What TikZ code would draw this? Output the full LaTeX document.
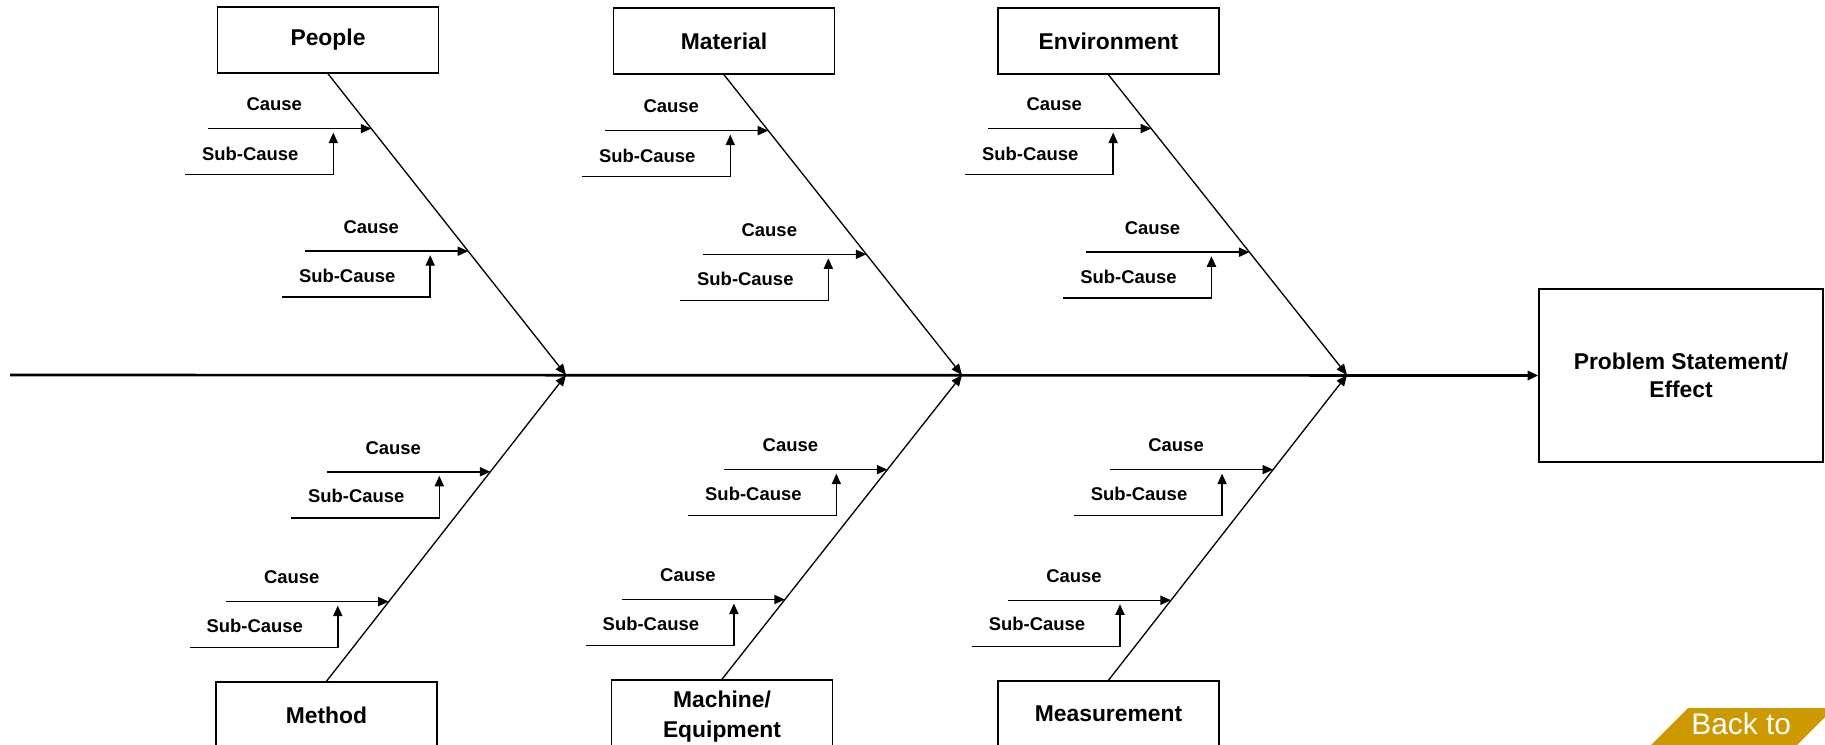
\documentclass[tikz,border=0pt]{standalone}
\usepackage{fontspec}
\setmainfont{Liberation Sans}
\usetikzlibrary{arrows.meta,calc}
\definecolor{backgold}{RGB}{204,153,0}

\begin{document}
\begin{tikzpicture}[x=0.02cm,y=0.02cm]
\tikzstyle{every node}+=[inner sep=0pt]
\tikzstyle{bone}=[draw, line width=0.9pt, minimum width=4.42cm, minimum height=1.32cm, align=center, font=\fontsize{13}{17}\selectfont\bfseries]
\tikzstyle{cause}=[font=\fontsize{10.5}{12}\selectfont\bfseries]
\tikzstyle{causearrow}=[line width=0.85pt, -{Triangle[length=6pt,width=5.2pt]}]
\tikzstyle{bonearrow}=[line width=0.75pt, -{Triangle[length=6.2pt,width=5.2pt]}]
\useasboundingbox (0,0) rectangle (1825,-744);
% head and spine
\node [bone, minimum width=5.68cm, minimum height=3.46cm, font=\fontsize{13}{16}\selectfont\bfseries] (effect) at (1681,-375.5) {Problem Statement/\\Effect};
\coordinate (tail) at (10,-375);
\draw [line width=1.5pt, -{Triangle[length=6pt,width=5.2pt]}] (tail) -- (effect.west);
\coordinate (j1) at (566,-375);
\coordinate (j2) at (962,-375);
\coordinate (j3) at (1347,-375);
% category boxes
\node [bone] (people) at (328,-40) {People};
\node [bone] (material) at (724,-41) {Material};
\node [bone] (environment) at (1108.5,-41) {Environment};
\node [bone] (method) at (326.5,-715) {Method};
\node [bone, minimum height=1.48cm] (machine) at (722,-717) {Machine/\\Equipment};
\node [bone] (measurement) at (1108.5,-714) {Measurement};
% bones
\draw [bonearrow] (people.south) -- coordinate[pos=0.182] (p1) coordinate[pos=0.589] (p2) (j1);
\draw [bonearrow] (material.south) -- coordinate[pos=0.186] (m1) coordinate[pos=0.598] (m2) (j2);
\draw [bonearrow] (environment.south) -- coordinate[pos=0.179] (e1) coordinate[pos=0.591] (e2) (j3);
\draw [bonearrow] (method.north) -- coordinate[pos=0.684] (t1) coordinate[pos=0.26] (t2) (j1);
\draw [bonearrow] (machine.north) -- coordinate[pos=0.689] (q1) coordinate[pos=0.262] (q2) (j2);
\draw [bonearrow] (measurement.north) -- coordinate[pos=0.69] (s1) coordinate[pos=0.262] (s2) (j3);
% People
\draw [causearrow] ($(p1)+(-163,0)$) -- (p1);
\node [cause] (pc1) at ($(p1)+(-97,24)$) {Cause};
\draw [causearrow] ($(p1)+(-186,-46)$) -- ($(p1)+(-38,-46)$) -- ($(p1)+(-38,-4)$);
\node [cause] (ps1) at ($(p1)+(-121,-25)$) {Sub-Cause};
\draw [causearrow] ($(p2)+(-163,0)$) -- (p2);
\node [cause] (pc2) at ($(p2)+(-97,24)$) {Cause};
\draw [causearrow] ($(p2)+(-186,-46)$) -- ($(p2)+(-38,-46)$) -- ($(p2)+(-38,-4)$);
\node [cause] (ps2) at ($(p2)+(-121,-25)$) {Sub-Cause};
% Material
\draw [causearrow] ($(m1)+(-163,0)$) -- (m1);
\node [cause] (mc1) at ($(m1)+(-97,24)$) {Cause};
\draw [causearrow] ($(m1)+(-186,-46)$) -- ($(m1)+(-38,-46)$) -- ($(m1)+(-38,-4)$);
\node [cause] (ms1) at ($(m1)+(-121,-25)$) {Sub-Cause};
\draw [causearrow] ($(m2)+(-163,0)$) -- (m2);
\node [cause] (mc2) at ($(m2)+(-97,24)$) {Cause};
\draw [causearrow] ($(m2)+(-186,-46)$) -- ($(m2)+(-38,-46)$) -- ($(m2)+(-38,-4)$);
\node [cause] (ms2) at ($(m2)+(-121,-25)$) {Sub-Cause};
% Environment
\draw [causearrow] ($(e1)+(-163,0)$) -- (e1);
\node [cause] (ec1) at ($(e1)+(-97,24)$) {Cause};
\draw [causearrow] ($(e1)+(-186,-46)$) -- ($(e1)+(-38,-46)$) -- ($(e1)+(-38,-4)$);
\node [cause] (es1) at ($(e1)+(-121,-25)$) {Sub-Cause};
\draw [causearrow] ($(e2)+(-163,0)$) -- (e2);
\node [cause] (ec2) at ($(e2)+(-97,24)$) {Cause};
\draw [causearrow] ($(e2)+(-186,-46)$) -- ($(e2)+(-38,-46)$) -- ($(e2)+(-38,-4)$);
\node [cause] (es2) at ($(e2)+(-121,-25)$) {Sub-Cause};
% Method
\draw [causearrow] ($(t1)+(-163,0)$) -- (t1);
\node [cause] (tc1) at ($(t1)+(-97,24)$) {Cause};
\draw [causearrow] ($(t1)+(-199,-46)$) -- ($(t1)+(-51,-46)$) -- ($(t1)+(-51,-4)$);
\node [cause] (ts1) at ($(t1)+(-134,-24)$) {Sub-Cause};
\draw [causearrow] ($(t2)+(-163,0)$) -- (t2);
\node [cause] (tc2) at ($(t2)+(-97,24)$) {Cause};
\draw [causearrow] ($(t2)+(-199,-46)$) -- ($(t2)+(-51,-46)$) -- ($(t2)+(-51,-4)$);
\node [cause] (ts2) at ($(t2)+(-134,-24)$) {Sub-Cause};
% Machine
\draw [causearrow] ($(q1)+(-163,0)$) -- (q1);
\node [cause] (qc1) at ($(q1)+(-97,24)$) {Cause};
\draw [causearrow] ($(q1)+(-199,-46)$) -- ($(q1)+(-51,-46)$) -- ($(q1)+(-51,-4)$);
\node [cause] (qs1) at ($(q1)+(-134,-24)$) {Sub-Cause};
\draw [causearrow] ($(q2)+(-163,0)$) -- (q2);
\node [cause] (qc2) at ($(q2)+(-97,24)$) {Cause};
\draw [causearrow] ($(q2)+(-199,-46)$) -- ($(q2)+(-51,-46)$) -- ($(q2)+(-51,-4)$);
\node [cause] (qs2) at ($(q2)+(-134,-24)$) {Sub-Cause};
% Measurement
\draw [causearrow] ($(s1)+(-163,0)$) -- (s1);
\node [cause] (sc1) at ($(s1)+(-97,24)$) {Cause};
\draw [causearrow] ($(s1)+(-199,-46)$) -- ($(s1)+(-51,-46)$) -- ($(s1)+(-51,-4)$);
\node [cause] (ss1) at ($(s1)+(-134,-24)$) {Sub-Cause};
\draw [causearrow] ($(s2)+(-163,0)$) -- (s2);
\node [cause] (sc2) at ($(s2)+(-97,24)$) {Cause};
\draw [causearrow] ($(s2)+(-199,-46)$) -- ($(s2)+(-51,-46)$) -- ($(s2)+(-51,-4)$);
\node [cause] (ss2) at ($(s2)+(-134,-24)$) {Sub-Cause};
% back button
\fill [backgold] (1688,-708) -- (1834,-708) -- (1784,-758) -- (1638,-758) -- cycle;
\node [anchor=base west, text=white, font=\fontsize{17}{20}\selectfont] (backto) at (1691,-734) {Back to};
\end{tikzpicture}
\end{document}
